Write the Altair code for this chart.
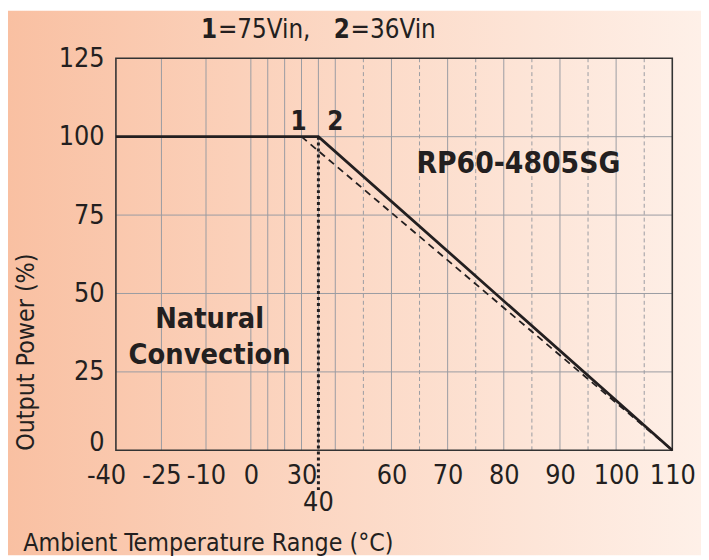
import altair as alt
import pandas as pd

FONT = "DejaVu Sans Condensed, sans-serif"
INK = "#231F20"
GRID = "#9A9CA2"

# ---- data ----
temp_36vin = [-40, 40, 110]
power_36vin = [100, 100, 0]
temp_75vin = [30, 110]
power_75vin = [100, 0]
x_tick_labels = [-40, -25, -10, 0, 30, 60, 70, 80, 90, 100, 110]
y_tick_labels = [0, 25, 50, 75, 100, 125]
grid_solid_x = [-25, -10, 0, 10, 20, 30, 40, 50, 60, 70, 80, 90, 100]
grid_dashed_x = [55, 65, 75, 85, 95, 105]
grid_y = [25, 50, 75, 100]
derating_temp = 40
ann_text = ["RP60-4805SG", "Natural", "Convection", "1", "2"]
ann_x = [82.6, -9.2, -9.2, 28.2, 50]
ann_y = [88.3, 39.0, 27.4, 102.1, 102.1]
ann_size = [30, 29, 29, 26, 26]

W, H = 562, 396
xscale = alt.Scale(domain=[-40, -25, -10, 0, 50, 110],
                   range=[0, 46, 91, 136.3, 221.6, W], nice=False, zero=False)
yscale = alt.Scale(domain=[0, 125], nice=False, zero=False)

one = pd.DataFrame({"a": [0]})

bg = alt.Chart(one).mark_rect(
    fill=alt.Gradient(gradient="linear",
                      stops=[alt.GradientStop(color="#F9C0A2", offset=0),
                             alt.GradientStop(color="#FCD9C6", offset=0.5),
                             alt.GradientStop(color="#FEF0E8", offset=1)],
                      x1=0, x2=1, y1=0, y2=0)
).encode(x=alt.value(-109), x2=alt.value(W + 29), y=alt.value(-48), y2=alt.value(H + 106))

vsolid = alt.Chart(pd.DataFrame({"t": grid_solid_x})).mark_rule(
    color=GRID, strokeWidth=1).encode(
    x=alt.X("t:Q", scale=xscale,
            axis=alt.Axis(values=x_tick_labels, grid=False, ticks=False, domain=False,
                          labelExpr="datum.value + ''",
                          labelFont=FONT, labelFontSize=27, labelColor=INK,
                          labelPadding=13, labelFlush=False, labelOverlap=False,
                          labelOffset={"condition": {"test": "datum.value == -40", "value": -10},
                                       "value": 0},
                          title="Ambient Temperature Range (°C)", titleFont=FONT,
                          titleFontSize=25, titleFontWeight="normal", titleColor=INK,
                          titleAlign="left", titleBaseline="alphabetic",
                          titleX=-94, titleY=101, zindex=1)))

vdash = alt.Chart(pd.DataFrame({"t": grid_dashed_x})).mark_rule(
    color=GRID, strokeWidth=1, strokeDash=[4, 3]).encode(x=alt.X("t:Q", scale=xscale))

hgrid = alt.Chart(pd.DataFrame({"p": grid_y})).mark_rule(
    color=GRID, strokeWidth=1).encode(
    y=alt.Y("p:Q", scale=yscale,
            axis=alt.Axis(values=y_tick_labels, grid=False, ticks=False, domain=False,
                          labelFont=FONT, labelFontSize=27, labelColor=INK,
                          labelPadding=12, labelFlush=False, labelOverlap=False,
                          labelBaseline={"condition": {"test": "datum.value == 0",
                                                       "value": "alphabetic"},
                                         "value": "middle"},
                          title="Output Power (%)", titleFont=FONT, titleFontSize=25,
                          titleFontWeight="normal", titleColor=INK, titleAngle=-90,
                          titleAlign="left", titleBaseline="alphabetic",
                          titleX=-83, titleY=H, zindex=1)))

frame = alt.Chart(one).mark_rect(filled=False, stroke="#333333", strokeWidth=1.6).encode(
    x=alt.datum(-40, scale=xscale), x2=alt.datum(110),
    y=alt.datum(0, scale=yscale), y2=alt.datum(125))

dotted = alt.Chart(pd.DataFrame({"t": [derating_temp], "p1": [100], "p2": [-12.7]})).mark_rule(
    color=INK, strokeWidth=3, strokeDash=[3, 3]).encode(
    x=alt.X("t:Q", scale=xscale), y=alt.Y("p1:Q", scale=yscale), y2="p2:Q")

line75 = alt.Chart(pd.DataFrame({"t": temp_75vin, "p": power_75vin})).mark_line(
    color=INK, strokeWidth=1.8, strokeDash=[7, 5]).encode(
    x=alt.X("t:Q", scale=xscale), y=alt.Y("p:Q", scale=yscale))

line36 = alt.Chart(pd.DataFrame({"t": temp_36vin, "p": power_36vin})).mark_line(
    color=INK, strokeWidth=2.8).encode(
    x=alt.X("t:Q", scale=xscale), y=alt.Y("p:Q", scale=yscale))

ann = alt.Chart(pd.DataFrame({"txt": ann_text, "t": ann_x, "p": ann_y, "fs": ann_size})).mark_text(
    font=FONT, fontWeight="bold", color=INK, align="center", baseline="alphabetic").encode(
    x=alt.X("t:Q", scale=xscale), y=alt.Y("p:Q", scale=yscale),
    text="txt:N", size=alt.Size("fs:Q", scale=None))

label40 = alt.Chart(pd.DataFrame({"t": [derating_temp], "p": [-19.4], "txt": ["40"]})).mark_text(
    font=FONT, fontSize=27, color=INK, align="center", baseline="alphabetic").encode(
    x=alt.X("t:Q", scale=xscale), y=alt.Y("p:Q", scale=yscale), text="txt:N")

header_parts = ["1", "=75Vin,", "2", "=36Vin"]
header_weights = ["bold", "normal", "bold", "normal"]
header_x = [86, 103, 220, 237]
header_layers = []
for txt, wt, hx in zip(header_parts, header_weights, header_x):
    header_layers.append(
        alt.Chart(one).mark_text(font=FONT, fontSize=26, fontWeight=wt, color=INK,
                                 align="left", baseline="alphabetic", text=txt)
        .encode(x=alt.value(hx), y=alt.value(-20)))

chart = alt.layer(bg, vsolid, vdash, hgrid, frame, dotted, line75, line36, ann, label40,
                  *header_layers).properties(
    width=W, height=H, autosize="none",
    padding={"left": 109, "top": 48, "right": 29, "bottom": 106},
).configure_view(stroke=None)

chart.save("out.html", embed_options={"renderer": "svg", "actions": False})
